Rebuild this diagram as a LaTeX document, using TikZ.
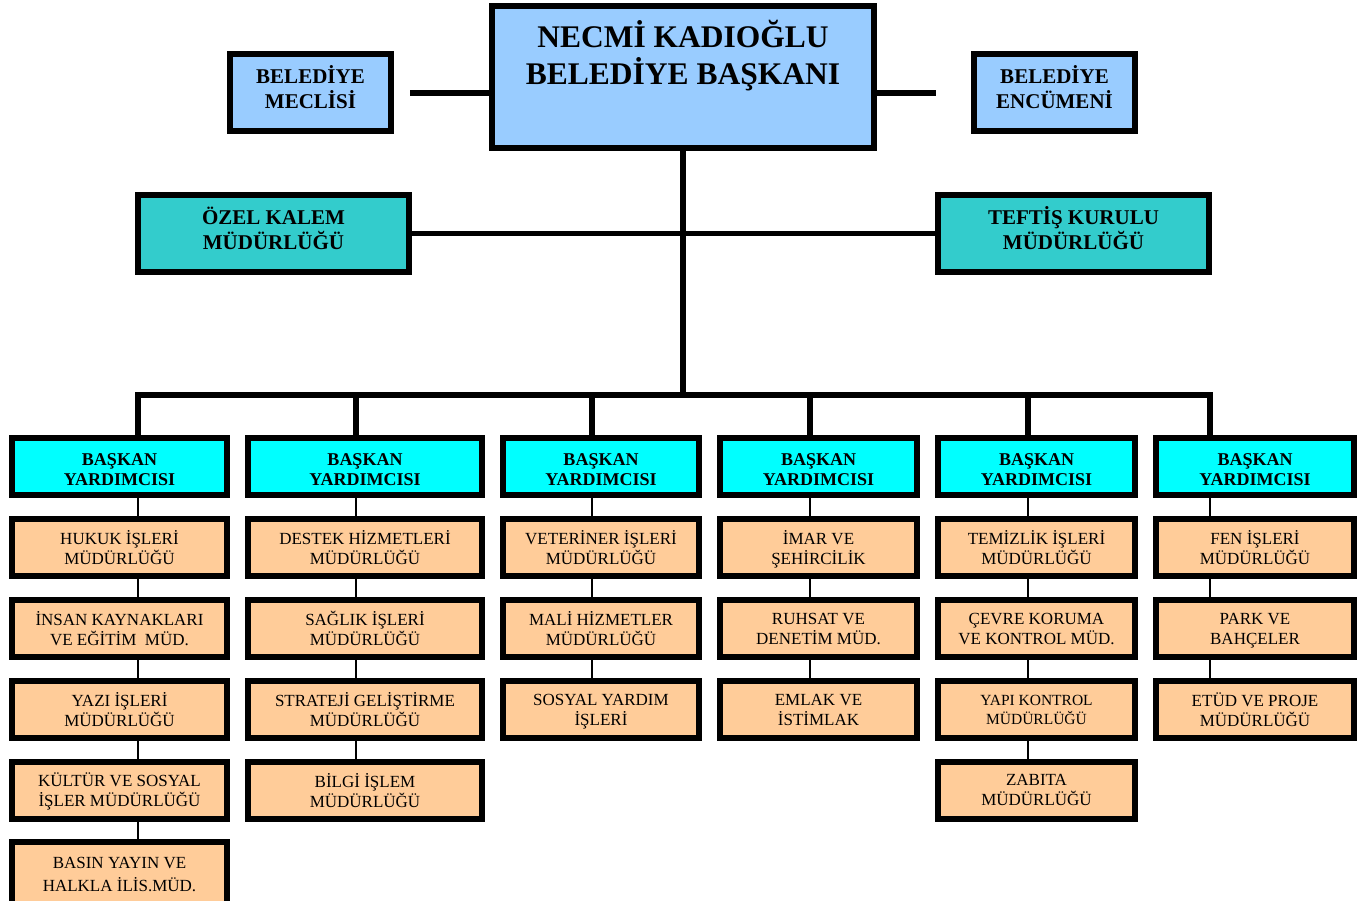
\documentclass[tikz,border=0pt]{standalone}
\usepackage{fontspec}
\setmainfont{Liberation Serif}
\usepackage{tikz}
\definecolor{mayorblue}{HTML}{99CCFF}
\definecolor{teal}{HTML}{33CCCC}
\definecolor{yardcyan}{HTML}{00FFFF}
\definecolor{mudorange}{HTML}{FFCC99}

\begin{document}
\begin{tikzpicture}[x=1pt,y=-1pt,
    box/.style={draw,line width=6pt,align=center,inner sep=0pt},
    mayorbox/.style={box,fill=mayorblue,minimum width=382,minimum height=142},
    sidebox/.style={box,fill=mayorblue,minimum width=161,minimum height=77,text depth=10pt,
        font=\fontsize{21}{25}\selectfont\bfseries},
    kalembox/.style={box,fill=teal,minimum width=271,minimum height=77,text depth=10pt,
        font=\fontsize{21}{25}\selectfont\bfseries},
    yardbox/.style={box,fill=yardcyan,minimum height=57,text height=38pt,text depth=0pt,
        font=\fontsize{18}{20}\selectfont\bfseries},
    mudbox/.style={box,fill=mudorange,minimum height=57,text depth=0pt,
        font=\fontsize{17}{20}\selectfont},
    trunk/.style={line width=5.5pt},
    sublink/.style={line width=2pt}]
\useasboundingbox (0,0) rectangle (1370,901);
\clip (0,0) rectangle (1370,901);

% top
\node[mayorbox] (mayor) at (683,77) {};
\node[align=center,font=\fontsize{31.5}{37}\selectfont\bfseries] (mayortxt) at (683,56)
    {NECMİ KADIOĞLU\\BELEDİYE BAŞKANI};
\node[sidebox] (meclis) at (310.5,92.5) {BELEDİYE\\MECLİSİ};
\node[sidebox] (encumen) at (1054.5,92.5) {BELEDİYE\\ENCÜMENİ};
\node[kalembox] (ozel) at (273.5,233.5) {ÖZEL KALEM\\MÜDÜRLÜĞÜ};
\node[kalembox] (teftis) at (1073.5,233.5) {TEFTİŞ KURULU\\MÜDÜRLÜĞÜ};

\coordinate (mecL) at (410,93);
\coordinate (encR) at (936,93);
\coordinate (hub) at (683,395);
\draw[trunk] (mecL) -- (mecL -| mayor.west);
\draw[trunk] (mayor.east |- encR) -- (encR);
\draw[trunk] (mayor.south) -- (hub);
\draw[trunk] (ozel.east) -- (teftis.west);

% baskan yardimcilari
\node[yardbox,minimum width=215] (by1) at (119.5,466.5) {BAŞKAN\\YARDIMCISI};
\node[yardbox,minimum width=234] (by2) at (365,466.5) {BAŞKAN\\YARDIMCISI};
\node[yardbox,minimum width=196] (by3) at (601,466.5) {BAŞKAN\\YARDIMCISI};
\node[yardbox,minimum width=197] (by4) at (818.5,466.5) {BAŞKAN\\YARDIMCISI};
\node[yardbox,minimum width=197] (by5) at (1036.5,466.5) {BAŞKAN\\YARDIMCISI};
\node[yardbox,minimum width=198] (by6) at (1255,466.5) {BAŞKAN\\YARDIMCISI};

\coordinate (d1) at (138,395);
\coordinate (d2) at (356,395);
\coordinate (d3) at (592,395);
\coordinate (d4) at (810,395);
\coordinate (d5) at (1028,395);
\coordinate (d6) at (1210,395);
\draw[trunk,line join=miter] (d1 |- by1.north) -- (d1) -- (d6) -- (d6 |- by6.north);
\foreach \d/\b in {d2/by2,d3/by3,d4/by4,d5/by5}
    \draw[trunk] (\d) -- (\d |- \b.north);

% mudurlukler
\node[mudbox,minimum width=215] (hukuk) at (119.5,547.5) {HUKUK İŞLERİ\\MÜDÜRLÜĞÜ};
\node[mudbox,minimum width=215] (insan) at (119.5,628.5) {İNSAN KAYNAKLARI\\VE EĞİTİM~ MÜD.};
\node[mudbox,minimum width=215] (yazi) at (119.5,709.5) {YAZI İŞLERİ\\MÜDÜRLÜĞÜ};
\node[mudbox,minimum width=215] (kultur) at (119.5,790) {KÜLTÜR VE SOSYAL\\İŞLER MÜDÜRLÜĞÜ};
\node[mudbox,minimum width=215,minimum height=65] (basin) at (119.5,874.5) {BASIN YAYIN VE\\[3pt]HALKLA İLİS.MÜD.};

\node[mudbox,minimum width=234] (destek) at (365,547.5) {DESTEK HİZMETLERİ\\MÜDÜRLÜĞÜ};
\node[mudbox,minimum width=234] (saglik) at (365,628.5) {SAĞLIK İŞLERİ\\MÜDÜRLÜĞÜ};
\node[mudbox,minimum width=234] (strateji) at (365,709.5) {STRATEJİ GELİŞTİRME\\MÜDÜRLÜĞÜ};
\node[mudbox,minimum width=234] (bilgi) at (365,790) {BİLGİ İŞLEM\\MÜDÜRLÜĞÜ};

\node[mudbox,minimum width=196] (veteriner) at (601,547.5) {VETERİNER İŞLERİ\\MÜDÜRLÜĞÜ};
\node[mudbox,minimum width=196] (mali) at (601,628.5) {MALİ HİZMETLER\\MÜDÜRLÜĞÜ};
\node[mudbox,minimum width=196] (sosyal) at (601,709.5) {SOSYAL YARDIM\\İŞLERİ};

\node[mudbox,minimum width=197] (imar) at (818.5,547.5) {İMAR VE\\ŞEHİRCİLİK};
\node[mudbox,minimum width=197] (ruhsat) at (818.5,628.5) {RUHSAT VE\\DENETİM MÜD.};
\node[mudbox,minimum width=197] (emlak) at (818.5,709.5) {EMLAK VE\\İSTİMLAK};

\node[mudbox,minimum width=197] (temizlik) at (1036.5,547.5) {TEMİZLİK İŞLERİ\\MÜDÜRLÜĞÜ};
\node[mudbox,minimum width=197] (cevre) at (1036.5,628.5) {ÇEVRE KORUMA\\VE KONTROL MÜD.};
\node[mudbox,minimum width=197,font=\fontsize{15.5}{19}\selectfont] (yapi) at (1036.5,709.5) {YAPI KONTROL\\MÜDÜRLÜĞÜ};
\node[mudbox,minimum width=197] (zabita) at (1036.5,790) {ZABITA\\MÜDÜRLÜĞÜ};

\node[mudbox,minimum width=198] (fen) at (1255,547.5) {FEN İŞLERİ\\MÜDÜRLÜĞÜ};
\node[mudbox,minimum width=198] (park) at (1255,628.5) {PARK VE\\BAHÇELER};
\node[mudbox,minimum width=198] (etud) at (1255,709.5) {ETÜD VE PROJE\\MÜDÜRLÜĞÜ};

% ince baglantilar
\foreach \a/\b/\d in {by1/hukuk/d1,hukuk/insan/d1,insan/yazi/d1,yazi/kultur/d1,kultur/basin/d1,
    by2/destek/d2,destek/saglik/d2,saglik/strateji/d2,strateji/bilgi/d2,
    by3/veteriner/d3,veteriner/mali/d3,mali/sosyal/d3,
    by4/imar/d4,imar/ruhsat/d4,ruhsat/emlak/d4,
    by5/temizlik/d5,temizlik/cevre/d5,cevre/yapi/d5,yapi/zabita/d5,
    by6/fen/d6,fen/park/d6,park/etud/d6}
    \draw[sublink] (\a.south -| \d) -- (\b.north -| \d);

\end{tikzpicture}
\end{document}
